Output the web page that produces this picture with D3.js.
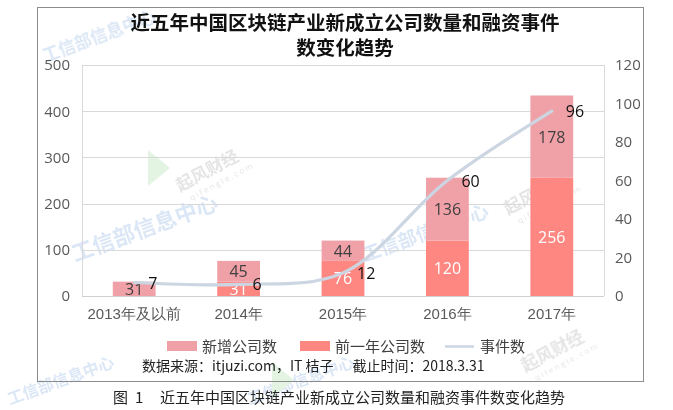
<!DOCTYPE html>
<html lang="zh">
<head>
<meta charset="UTF-8" />
<title>近五年中国区块链产业新成立公司数量和融资事件数变化趋势</title>
<script src="https://d3js.org/d3.v7.min.js"></script>
<style>
  body { margin: 0; background: #fff; }
  svg { display: block; font-family: "Open Sans", "Noto Sans CJK SC", sans-serif; }
</style>
</head>
<body>
<svg width="673" height="410"></svg>
<script>
  // 数据
  const years = ["2013年及以前", "2014年", "2015年", "2016年", "2017年"];
  const priorCompanies = [0, 31, 76, 120, 256];   // 前一年公司数
  const newCompanies = [31, 45, 44, 136, 178];    // 新增公司数
  const events = [7, 6, 12, 60, 96];              // 事件数
  const leftTicks = [0, 100, 200, 300, 400, 500];
  const rightTicks = [0, 20, 40, 60, 80, 100, 120];

  const cNew = "#F0A0A7", cPrior = "#FF8782", cLine = "#CCD5E2";
  const svg = d3.select("svg");
  const m = { left: 82, right: 604, top: 65, bottom: 296 };

  // 水印
  const wm = svg.append("g").attr("opacity", 0.28);
  [[45, 62, 17], [75, 262, 22], [365, 262, 19], [250, 405, 16], [10, 405, 16]].forEach(([x, y, s]) => {
    wm.append("text").attr("transform", `translate(${x},${y}) rotate(-20)`)
      .attr("font-size", s).attr("font-weight", "bold").attr("fill", "#7FA9DD")
      .attr("font-family", "Noto Sans CJK SC").text("工信部信息中心");
  });
  [[180, 192], [508, 215], [525, 372]].forEach(([x, y]) => {
    const g = wm.append("g").attr("transform", `translate(${x},${y}) rotate(-28)`);
    g.append("text").attr("font-size", 17).attr("font-weight", "bold").attr("fill", "#A0A0A0")
      .attr("font-family", "Noto Sans CJK SC").text("起风财经");
    g.append("text").attr("y", 13).attr("x", 6).attr("font-size", 8).attr("fill", "#A0A0A0")
      .attr("letter-spacing", 2).text("qifengle.com");
  });
  [[148, 168], [428, 205], [272, 380]].forEach(([x, y]) => {
    wm.append("path").attr("transform", `translate(${x},${y})`)
      .attr("d", "M0,-18 L22,0 L0,18 Z").attr("fill", "#9AD89A");
  });

  // 外框
  svg.append("rect").attr("x", 37.5).attr("y", 7.5).attr("width", 606).attr("height", 374)
    .attr("fill", "none").attr("stroke", "#8C8C8C");

  // 标题
  const title = svg.append("text").attr("text-anchor", "middle").attr("font-size", 19.5)
    .attr("font-weight", "bold").attr("fill", "#111").attr("font-family", "Noto Sans CJK SC");
  title.append("tspan").attr("x", 345).attr("y", 30).text("近五年中国区块链产业新成立公司数量和融资事件");
  title.append("tspan").attr("x", 345).attr("y", 55).text("数变化趋势");

  const x = d3.scaleBand().domain(years).range([m.left, m.right]).paddingInner(0.59).paddingOuter(0.295);
  const y = d3.scaleLinear().domain([0, 500]).range([m.bottom, m.top]);
  const y2 = d3.scaleLinear().domain([0, 120]).range([m.bottom, m.top]);

  // 网格
  svg.append("g").selectAll("line").data(leftTicks.slice(1)).join("line")
    .attr("x1", m.left).attr("x2", m.right).attr("y1", d => Math.round(y(d)) + 0.5).attr("y2", d => Math.round(y(d)) + 0.5)
    .attr("stroke", "#D9D9D9");
  svg.append("line").attr("x1", m.left + 0.5).attr("x2", m.left + 0.5).attr("y1", m.top).attr("y2", m.bottom).attr("stroke", "#D9D9D9");
  svg.append("line").attr("x1", m.right + 0.5).attr("x2", m.right + 0.5).attr("y1", m.top).attr("y2", m.bottom).attr("stroke", "#D9D9D9");

  // 左轴
  const yAxis = svg.append("g").attr("transform", `translate(${m.left - 12},0)`)
    .call(d3.axisLeft(y).tickValues(leftTicks).tickSize(0).tickPadding(0));
  yAxis.select(".domain").remove();
  yAxis.selectAll("text").attr("font-size", 15).attr("fill", "#595959").attr("font-family", "Open Sans");

  // 右轴
  const yAxis2 = svg.append("g").attr("transform", `translate(${m.right + 11},0)`)
    .call(d3.axisRight(y2).tickValues(rightTicks).tickSize(0).tickPadding(0));
  yAxis2.select(".domain").remove();
  yAxis2.selectAll("text").attr("font-size", 15).attr("fill", "#595959").attr("font-family", "Open Sans");

  // 堆叠柱
  const rows = years.map((yr, i) => ({ yr, prior: priorCompanies[i], add: newCompanies[i] }));
  const bars = svg.append("g");
  bars.selectAll(".prior").data(rows).join("rect").attr("class", "prior")
    .attr("x", d => x(d.yr)).attr("width", x.bandwidth())
    .attr("y", d => y(d.prior)).attr("height", d => y(0) - y(d.prior)).attr("fill", cPrior);
  bars.selectAll(".add").data(rows).join("rect").attr("class", "add")
    .attr("x", d => x(d.yr)).attr("width", x.bandwidth())
    .attr("y", d => y(d.prior + d.add)).attr("height", d => y(d.prior) - y(d.prior + d.add)).attr("fill", cNew);

  // X 轴
  svg.append("line").attr("x1", m.left).attr("x2", m.right).attr("y1", m.bottom + 0.5).attr("y2", m.bottom + 0.5).attr("stroke", "#D0D0D0");
  const xAxis = svg.append("g").attr("transform", `translate(0,${m.bottom})`)
    .call(d3.axisBottom(x).tickSize(0).tickPadding(12));
  xAxis.select(".domain").remove();
  xAxis.selectAll("text").attr("font-size", 15).attr("fill", "#595959");

  // 柱标签
  const lbl = svg.append("g").attr("font-size", 16).attr("text-anchor", "middle").attr("dominant-baseline", "central");
  lbl.selectAll(".lp").data(rows.filter(d => d.prior > 0)).join("text")
    .attr("x", d => x(d.yr) + x.bandwidth() / 2).attr("y", d => (y(0) + y(d.prior)) / 2)
    .attr("fill", "#fff").text(d => d.prior);
  lbl.selectAll(".la").data(rows).join("text")
    .attr("x", d => x(d.yr) + x.bandwidth() / 2).attr("y", d => (y(d.prior) + y(d.prior + d.add)) / 2)
    .attr("fill", "#404040").text(d => d.add);

  // 事件数折线
  const pts = years.map((yr, i) => [x(yr) + x.bandwidth() / 2, y2(events[i])]);
  svg.append("path").attr("d", d3.line().curve(d3.curveCatmullRom.alpha(0.5))(pts))
    .attr("fill", "none").attr("stroke", cLine).attr("stroke-width", 3.2).attr("stroke-linecap", "round");
  svg.append("g").attr("font-size", 16).attr("dominant-baseline", "central").attr("fill", "#111")
    .selectAll("text").data(pts).join("text")
    .attr("x", d => d[0] + 14).attr("y", d => d[1]).text((d, i) => events[i]);

  // 图例
  const lg = svg.append("g").attr("font-size", 15).attr("fill", "#404040").attr("font-family", "Noto Sans CJK SC");
  lg.append("rect").attr("x", 167).attr("y", 341).attr("width", 30).attr("height", 10).attr("fill", cNew);
  lg.append("text").attr("x", 202).attr("y", 352).text("新增公司数");
  lg.append("rect").attr("x", 300).attr("y", 341).attr("width", 30).attr("height", 10).attr("fill", cPrior);
  lg.append("text").attr("x", 335).attr("y", 352).text("前一年公司数");
  lg.append("line").attr("x1", 445).attr("x2", 474).attr("y1", 346.5).attr("y2", 346.5).attr("stroke", cLine).attr("stroke-width", 2.5);
  lg.append("text").attr("x", 480).attr("y", 352).text("事件数");

  // 数据来源
  svg.append("text").attr("x", 142).attr("y", 371).attr("font-size", 14).attr("fill", "#222")
    .attr("font-family", "Noto Sans CJK SC").attr("xml:space", "preserve")
    .text("数据来源：itjuzi.com，IT 桔子      截止时间：2018.3.31");

  // 图注
  const cap = svg.append("text").attr("y", 403).attr("font-size", 15).attr("fill", "#222")
    .attr("font-family", "Noto Sans CJK SC");
  cap.append("tspan").attr("x", 113).text("图");
  cap.append("tspan").attr("x", 135).text("1");
  cap.append("tspan").attr("x", 160).text("近五年中国区块链产业新成立公司数量和融资事件数变化趋势");
</script>
</body>
</html>
